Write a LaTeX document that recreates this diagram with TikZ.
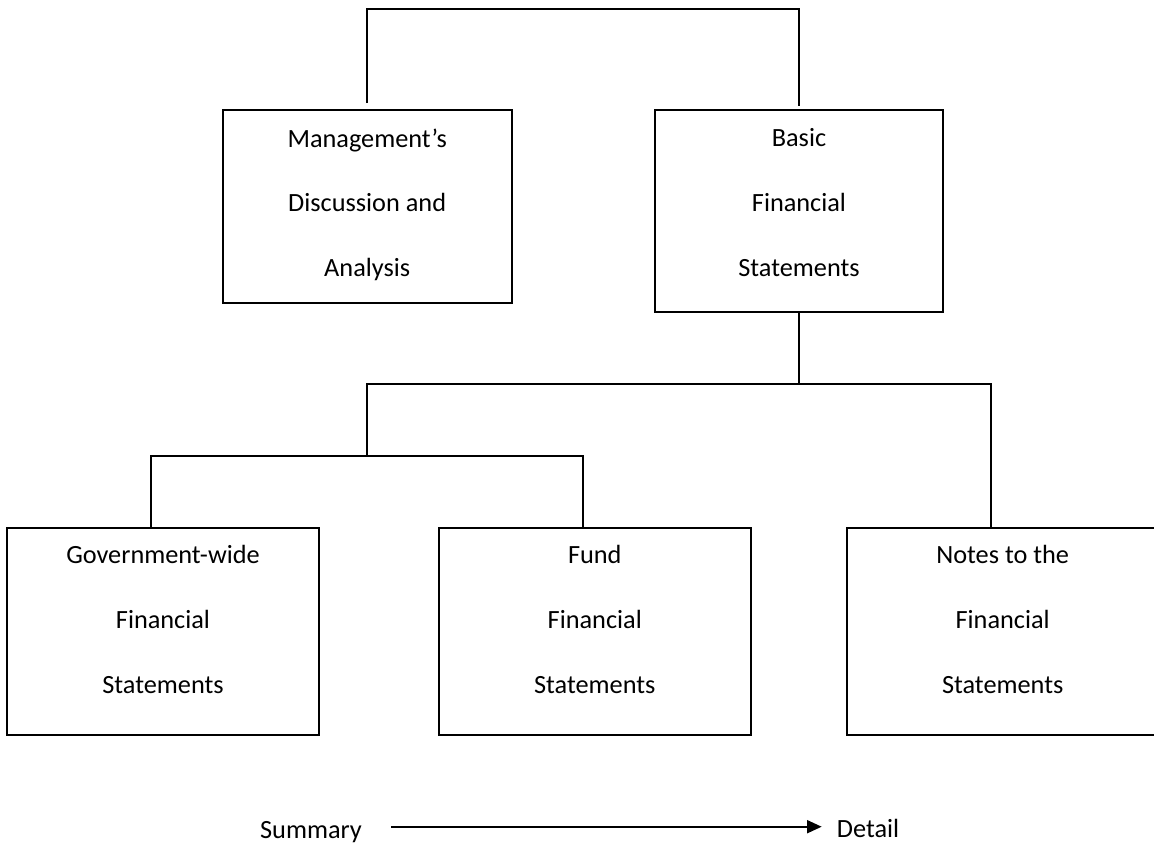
\documentclass[tikz,border=0pt]{standalone}
\usepackage{fontspec}
\setmainfont{Carlito}
\usetikzlibrary{arrows.meta}
\begin{document}
\begin{tikzpicture}[x=1pt,y=-1pt,
  box/.style={draw, line width=2pt, inner sep=0pt},
  lbl/.style={font=\fontsize{26.3}{32}\selectfont, inner sep=0pt, anchor=base},
  conn/.style={line width=2pt}]
\useasboundingbox (0,0) rectangle (1154,844);
% boxes
\node[box, minimum width=289pt, minimum height=192.7pt] (mda) at (367.2,206.4) {};
\node[box, minimum width=288.6pt, minimum height=202pt] (bfs) at (799,211) {};
\node[box, minimum width=312pt, minimum height=207pt] (gw) at (163,631.5) {};
\node[box, minimum width=312pt, minimum height=207pt] (fund) at (594.8,631.5) {};
\node[box, minimum width=312pt, minimum height=207pt] (notes) at (1002.7,631.5) {};
% texts
\node[lbl] (mda1) at ([yshift=-38pt]mda.north) {Management’s};
\node[lbl] (mda2) at ([yshift=-102pt]mda.north) {Discussion and};
\node[lbl] (mda3) at ([yshift=-167pt]mda.north) {Analysis};
\node[lbl] (bfs1) at ([yshift=-37pt]bfs.north) {Basic};
\node[lbl] (bfs2) at ([yshift=-102pt]bfs.north) {Financial};
\node[lbl] (bfs3) at ([yshift=-167pt]bfs.north) {Statements};
\node[lbl] (gw1) at ([yshift=-36pt]gw.north) {Government-wide};
\node[lbl] (gw2) at ([yshift=-101pt]gw.north) {Financial};
\node[lbl] (gw3) at ([yshift=-166pt]gw.north) {Statements};
\node[lbl] (fund1) at ([yshift=-36pt]fund.north) {Fund};
\node[lbl] (fund2) at ([yshift=-101pt]fund.north) {Financial};
\node[lbl] (fund3) at ([yshift=-166pt]fund.north) {Statements};
\node[lbl] (notes1) at ([yshift=-36pt]notes.north) {Notes to the};
\node[lbl] (notes2) at ([yshift=-101pt]notes.north) {Financial};
\node[lbl] (notes3) at ([yshift=-166pt]notes.north) {Statements};
% connectors
\coordinate (top) at (583,9);
\coordinate (j1) at (799,384);
\coordinate (j2) at (367,456);
\draw[conn] ([yshift=6pt]mda.north) |- (top) -| ([yshift=3pt]bfs.north);
\draw[conn] (bfs.south) -- (j1);
\draw[conn] (j2) |- (j1) -| ([xshift=-12pt]notes.north);
\draw[conn] ([xshift=-12pt]gw.north) |- (j2) -| ([xshift=-12pt]fund.north);
% summary -> detail
\node[lbl] (sum) at (311,838) {Summary};
\node[lbl, anchor=base west] (det) at (836.7,837.5) {Detail};
\draw[conn, -{Triangle[length=14.7pt,width=13pt]}] ([xshift=29pt]sum.east |- 0,826.7) -- ([xshift=-15pt]det.west |- 0,826.7);
\end{tikzpicture}
\end{document}
